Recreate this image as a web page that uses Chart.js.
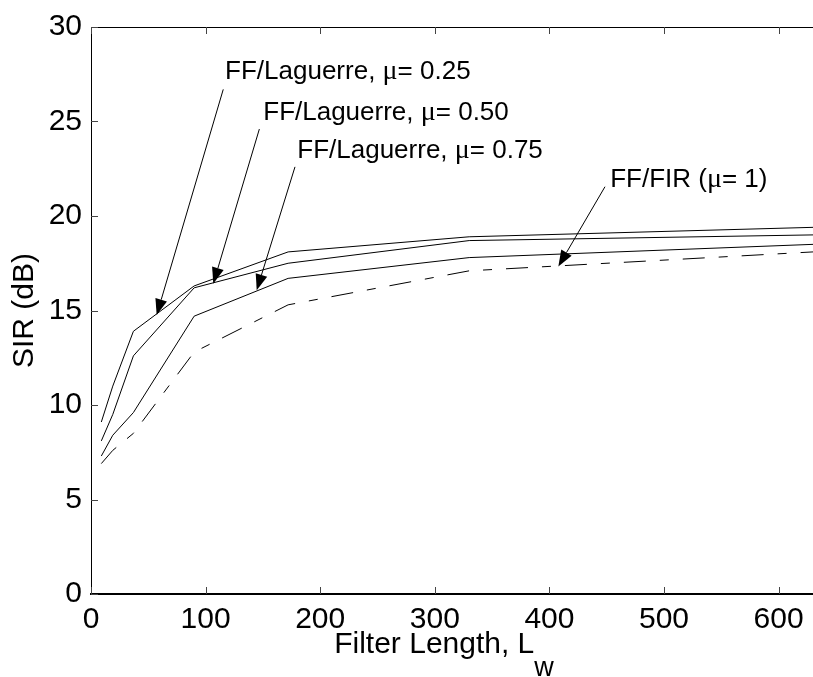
<!DOCTYPE html>
<html>
<head>
<meta charset="utf-8">
<script src="https://cdn.jsdelivr.net/npm/chart.js@4/dist/chart.umd.min.js"></script>
<style>
  html, body { margin: 0; padding: 0; background: #fff; }
  #wrap { width: 813px; height: 677px; }
</style>
</head>
<body>
<div id="wrap"><canvas id="sirChart" width="813" height="677"></canvas></div>
<script>
// filter lengths and SIR values
const filterLengths = [9, 19, 37, 90, 172, 330, 630];
const sirMu025 = [9.1, 11.0, 13.9, 16.3, 18.1, 18.9, 19.4];
const sirMu050 = [8.1, 9.5, 12.6, 16.2, 17.5, 18.7, 19.0];
const sirMu075 = [7.3, 8.4, 9.6, 14.7, 16.7, 17.8, 18.5];
const sirFir = [6.9, 7.6, 8.5, 12.8, 15.3, 17.1, 18.1];

const xTicks = [0, 100, 200, 300, 400, 500, 600];
const yTicks = [0, 5, 10, 15, 20, 25, 30];

// annotation labels: text, label anchor, arrow start and arrow tip (data units)
const noteTexts = [
  ['FF/Laguerre, ', '\u03bc', '= 0.25'],
  ['FF/Laguerre, ', '\u03bc', '= 0.50'],
  ['FF/Laguerre, ', '\u03bc', '= 0.75'],
  ['FF/FIR (', '\u03bc', '= 1)'],
];
const noteAnchors = [[117, 27.25], [150.3, 25.1], [180, 23.05], [453, 21.55]];
const arrowFrom = [[115.4, 26.7], [146.9, 24.6], [178, 22.6], [448.5, 21.55]];
const arrowTo = [[57.3, 14.76], [106.7, 16.42], [144.6, 16.07], [407.8, 17.33]];

const FONT = '"Liberation Sans", Arial, Helvetica, sans-serif';

const toPoints = (ys) => filterLengths.map((x, i) => ({ x, y: ys[i] }));

const lineStyle = {
  borderColor: '#000',
  borderWidth: 1,
  pointRadius: 0,
  tension: 0,
  fill: false,
};

// draws box top, inward ticks, arrows, notes and the x label with subscript
const decorations = {
  id: 'decorations',
  afterDraw(chart) {
    const { ctx, chartArea: a, scales: { x, y } } = chart;
    ctx.save();

    ctx.strokeStyle = '#000';
    ctx.lineWidth = 1;
    ctx.beginPath();
    ctx.moveTo(a.left, a.top + 0.5);
    ctx.lineTo(a.right, a.top + 0.5);
    ctx.stroke();

    ctx.strokeStyle = '#444';
    ctx.beginPath();
    xTicks.forEach(v => {
      const px = Math.round(x.getPixelForValue(v)) + 0.5;
      ctx.moveTo(px, a.bottom);
      ctx.lineTo(px, a.bottom - 7);
      ctx.moveTo(px, a.top);
      ctx.lineTo(px, a.top + 7);
    });
    yTicks.forEach(v => {
      const py = Math.round(y.getPixelForValue(v)) + 0.5;
      ctx.moveTo(a.left, py);
      ctx.lineTo(a.left + 7, py);
    });
    ctx.stroke();

    // arrows
    ctx.strokeStyle = '#000';
    ctx.fillStyle = '#000';
    ctx.lineWidth = 1;
    arrowFrom.forEach((from, i) => {
      const x0 = x.getPixelForValue(from[0]);
      const y0 = y.getPixelForValue(from[1]);
      const x1 = x.getPixelForValue(arrowTo[i][0]);
      const y1 = y.getPixelForValue(arrowTo[i][1]);
      const ang = Math.atan2(y1 - y0, x1 - x0);
      const len = 16, half = 6;
      ctx.beginPath();
      ctx.moveTo(x0, y0);
      ctx.lineTo(x1 - Math.cos(ang) * len, y1 - Math.sin(ang) * len);
      ctx.stroke();
      ctx.beginPath();
      ctx.moveTo(x1, y1);
      ctx.lineTo(x1 - Math.cos(ang) * len - Math.sin(ang) * half, y1 - Math.sin(ang) * len + Math.cos(ang) * half);
      ctx.lineTo(x1 - Math.cos(ang) * len + Math.sin(ang) * half, y1 - Math.sin(ang) * len - Math.cos(ang) * half);
      ctx.closePath();
      ctx.fill();
    });

    // note texts
    ctx.textBaseline = 'alphabetic';
    ctx.textAlign = 'left';
    noteTexts.forEach((parts, i) => {
      let px = x.getPixelForValue(noteAnchors[i][0]);
      const py = y.getPixelForValue(noteAnchors[i][1]);
      parts.forEach((t, j) => {
        ctx.font = j === 1 ? '28px "Liberation Serif", serif' : '26px ' + FONT;
        ctx.fillText(t, px, py);
        px += ctx.measureText(t).width;
      });
    });

    // x axis title with subscript
    ctx.font = '30px ' + FONT;
    const main = 'Filter Length, L';
    const mainW = ctx.measureText(main).width;
    ctx.font = '27px ' + FONT;
    const subW = ctx.measureText('w').width;
    const cx = (a.left + a.right) / 2 - 8;
    const left = cx - (mainW + subW) / 2;
    ctx.font = '30px ' + FONT;
    ctx.fillText(main, left, a.bottom + 59);
    ctx.font = '27px ' + FONT;
    ctx.fillText('w', left + mainW, a.bottom + 82);

    ctx.restore();
  },
};

new Chart(document.getElementById('sirChart'), {
  type: 'line',
  data: {
    datasets: [
      { label: 'FF/Laguerre, \u03bc = 0.25', data: toPoints(sirMu025), ...lineStyle },
      { label: 'FF/Laguerre, \u03bc = 0.50', data: toPoints(sirMu050), ...lineStyle },
      { label: 'FF/Laguerre, \u03bc = 0.75', data: toPoints(sirMu075), ...lineStyle },
      { label: 'FF/FIR (\u03bc = 1)', data: toPoints(sirFir), ...lineStyle, borderDash: [22, 14, 9, 14] },
    ],
  },
  options: {
    responsive: false,
    animation: false,
    layout: { padding: { top: 21, right: 0, left: 0, bottom: 0 } },
    plugins: {
      legend: { display: false },
      tooltip: { enabled: false },
    },
    scales: {
      x: {
        type: 'linear',
        min: 0,
        max: 630,
        afterBuildTicks: (scale) => { scale.ticks = xTicks.map(v => ({ value: v })); },
        afterFit: (scale) => { scale.height = 83; },
        grid: { display: true, drawOnChartArea: false, drawTicks: false },
        border: { display: true, color: '#000', width: 2 },
        ticks: {
          color: '#000',
          padding: 8,
          maxRotation: 0,
          font: { family: FONT, size: 30 },
        },
      },
      y: {
        min: 0,
        max: 30,
        afterBuildTicks: (scale) => { scale.ticks = yTicks.map(v => ({ value: v })); },
        afterFit: (scale) => { scale.width = 91; },
        grid: { display: true, drawOnChartArea: false, drawTicks: false },
        border: { display: true, color: '#000', width: 1 },
        ticks: {
          color: '#000',
          padding: 9,
          font: { family: FONT, size: 30 },
        },
        title: {
          display: true,
          text: 'SIR (dB)',
          color: '#000',
          font: { family: FONT, size: 30 },
          padding: { top: 7, bottom: 0 },
        },
      },
    },
  },
  plugins: [decorations],
});
</script>
</body>
</html>
